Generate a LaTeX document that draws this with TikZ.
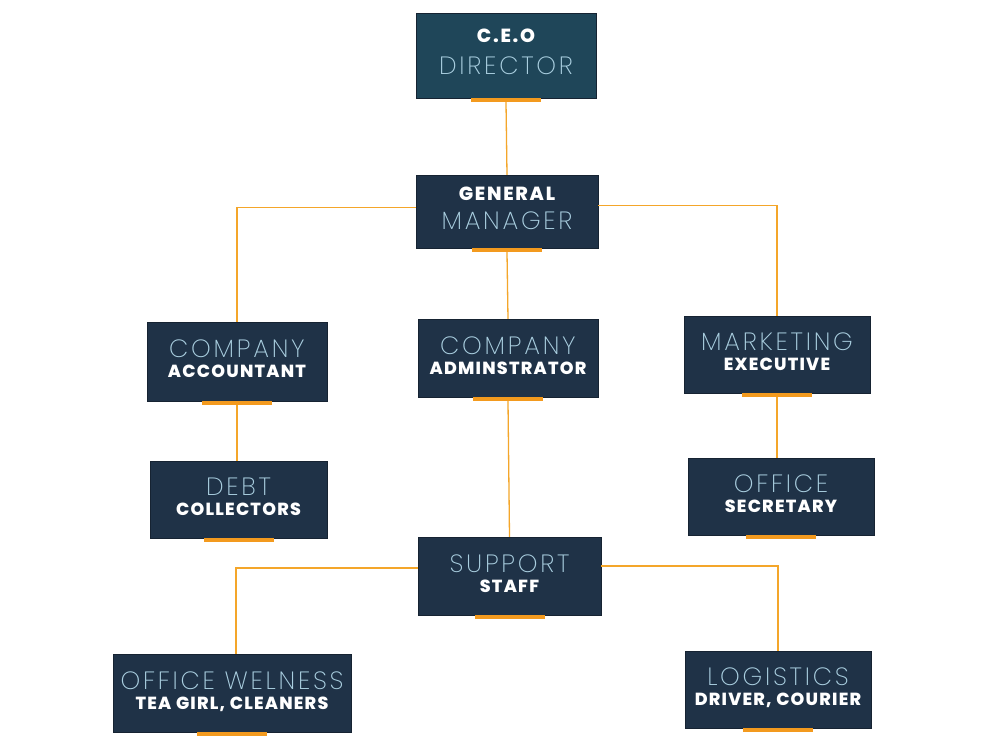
\documentclass[tikz,border=0pt]{standalone}
\usepackage{fontspec}
\setmainfont{Poppins}
\newfontfamily\lightf{Poppins ExtraLight}[LetterSpace=11]
\newfontfamily\boldf{Poppins ExtraBold}[LetterSpace=7]
\newfontfamily\boldtopf{Poppins ExtraBold}[LetterSpace=9]
\definecolor{navy}{HTML}{1F3247}
\definecolor{teal}{HTML}{1F4659}
\definecolor{paleblue}{HTML}{AACFE0}
\definecolor{barcol}{HTML}{F39A1E}
\definecolor{wire}{HTML}{F4A62A}
\newcommand\lighttext[1]{{\lightf\fontsize{25}{20}\selectfont\color{paleblue}#1}}
\newcommand\boldtext[1]{{\boldf\fontsize{17.5}{20}\selectfont\color{white}#1}}
\newcommand\boldtop[1]{{\boldtopf\fontsize{19}{20}\selectfont\color{white}#1}}
\newcommand\lift[1]{\rule[-#1pt]{0pt}{#1pt}}
\newcommand\orangebar[1]{\fill[barcol] ([xshift=-35pt]#1.south) rectangle ([xshift=35pt,yshift=-4pt]#1.south);}
\begin{document}
\begin{tikzpicture}[x=1pt,y=-1pt,
  box/.style={fill=navy,draw=navy!70!black,line width=0.4pt,inner sep=0pt,align=center,
    font=\fontsize{17}{20}\selectfont},
  wireline/.style={draw=wire,line width=1.3pt}]
\useasboundingbox[fill=white] (0,0) rectangle (1002,752);

\node[box,fill=teal,minimum width=180,minimum height=85] (ceo) at (506,55.5)
  {\boldtop{C.E.O}\\[12pt]\lighttext{DIRECTOR}\lift{7}};
\node[box,minimum width=182,minimum height=73] (gm) at (507,211.5)
  {\boldtop{GENERAL}\\[9pt]\lighttext{MANAGER}\lift{6}};
\node[box,minimum width=180,minimum height=79] (acc) at (237,361.5)
  {\lighttext{COMPANY}\\\boldtext{ACCOUNTANT}\lift{5}};
\node[box,minimum width=180,minimum height=78] (adm) at (508,358)
  {\lighttext{COMPANY}\\\boldtext{ADMINSTRATOR}\lift{5}};
\node[box,minimum width=186,minimum height=77] (mkt) at (777,354.5)
  {\lighttext{MARKETING}\\\boldtext{EXECUTIVE}\lift{5}};
\node[box,minimum width=177,minimum height=77] (debt) at (238.5,499.5)
  {\lighttext{DEBT}\\\boldtext{COLLECTORS}\lift{5}};
\node[box,minimum width=186,minimum height=77] (sec) at (781,496.5)
  {\lighttext{OFFICE}\\\boldtext{SECRETARY}\lift{5}};
\node[box,minimum width=183,minimum height=78] (sup) at (509.5,576)
  {\lighttext{SUPPORT}\\\boldtext{STAFF}\lift{5}};
\node[box,minimum width=238,minimum height=78] (wel) at (232,693)
  {\lighttext{OFFICE WELNESS}\\\boldtext{TEA GIRL, CLEANERS}\lift{5}};
\node[box,minimum width=186,minimum height=77] (log) at (778,689.5)
  {\lighttext{LOGISTICS}\\\boldtext{DRIVER, COURIER}\lift{5}};

\foreach \n in {ceo,gm,acc,adm,mkt,debt,sec,sup,wel,log}{\orangebar{\n}}

\draw[wireline] ([yshift=-4pt]ceo.south) -- (gm.north);
\draw[wireline] ([yshift=4pt]gm.west) -| (acc.north);
\draw[wireline] ([yshift=6pt]gm.east) -| (mkt.north);
\draw[wireline] ([yshift=-4pt]gm.south) -- (adm.north);
\draw[wireline] ([yshift=-4pt]acc.south) -- (acc.south |- debt.north);
\draw[wireline] ([yshift=-4pt]adm.south) -- (sup.north);
\draw[wireline] ([yshift=-4pt]mkt.south) -- (mkt.south |- sec.north);
\draw[wireline] ([yshift=8pt]sup.west) -| ([xshift=4pt]wel.north);
\draw[wireline] ([yshift=10pt]sup.east) -| (log.north);
\end{tikzpicture}
\end{document}
